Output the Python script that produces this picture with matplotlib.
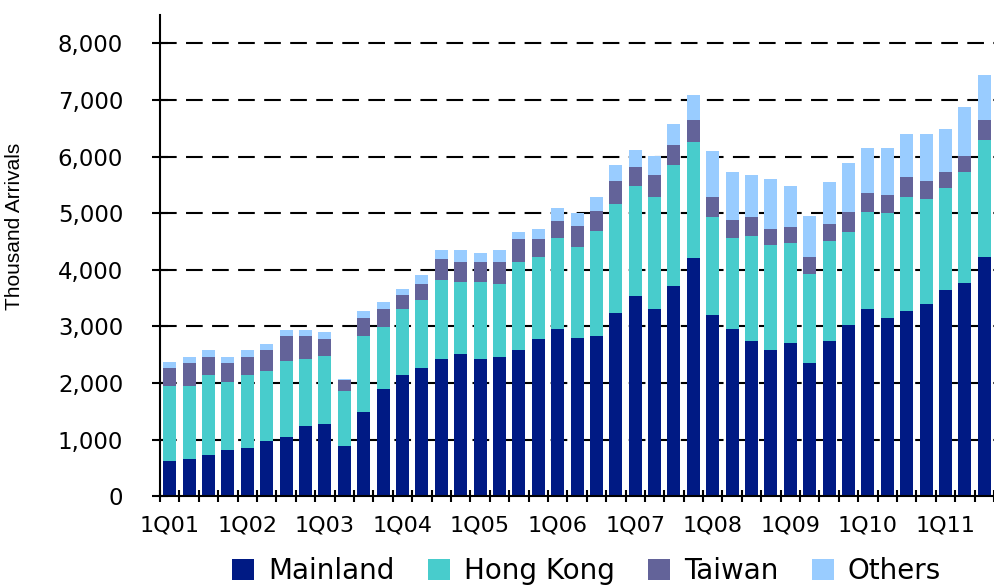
import numpy as np
import matplotlib
matplotlib.use('Agg')
import matplotlib.pyplot as plt

# Arrivées trimestrielles (milliers), 1Q01 -> 3Q11
quarters = [f'{q}Q{y:02d}' for y in range(1, 12) for q in range(1, 5)][:43]
tick_labels = ['1Q01', '1Q02', '1Q03', '1Q04', '1Q05', '1Q06',
               '1Q07', '1Q08', '1Q09', '1Q10', '1Q11']

mainland = [612, 653, 729, 812, 853, 976, 1047, 1241, 1282, 888, 1488,
            1894, 2135, 2259, 2424, 2506, 2424, 2459, 2576, 2782, 2950,
            2791, 2832, 3233, 3528, 3310, 3717, 4206, 3198, 2950, 2743,
            2580, 2710, 2345, 2739, 3022, 3311, 3152, 3270, 3387, 3641,
            3758, 4230]
hong_kong = [1329, 1288, 1412, 1206, 1288, 1242, 1335, 1188, 1189, 971,
             1336, 1094, 1165, 1212, 1400, 1276, 1358, 1294, 1559, 1442,
             1610, 1610, 1846, 1935, 1959, 1976, 2141, 2048, 1728, 1610,
             1859, 1850, 1767, 1578, 1774, 1650, 1714, 1844, 2008, 1856,
             1796, 1962, 2062]
taiwan = [324, 412, 318, 335, 318, 358, 442, 395, 311, 188, 329, 318, 247,
          282, 364, 353, 353, 382, 412, 323, 296, 366, 366, 395, 330, 395,
          354, 401, 360, 325, 324, 283, 283, 307, 288, 353, 336, 324, 366,
          318, 283, 295, 353]
others = [111, 106, 129, 106, 117, 118, 117, 117, 118, 18, 112, 118, 112,
          153, 153, 206, 159, 206, 118, 173, 235, 236, 242, 284, 307, 325,
          366, 442, 808, 838, 755, 883, 719, 724, 754, 854, 795, 836, 754,
          837, 766, 866, 795]

series = [('Mainland', mainland, '#001a84'),
          ('Hong Kong', hong_kong, '#48cccc'),
          ('Taiwan', taiwan, '#636399'),
          ('Others', others, '#99ccff')]

x = np.arange(len(quarters))

fig = plt.figure(figsize=(9.94, 5.85), dpi=100)
ax = fig.add_axes([0.161, 0.152, 0.839, 0.822])

bottom = np.zeros(len(x))
for name, vals, col in series:
    vals = np.array(vals, dtype=float)
    ax.bar(x, vals, width=0.67, bottom=bottom, color=col, label=name,
           linewidth=0, zorder=2)
    bottom += vals

ax.set_xlim(-0.46, 42.2)
ax.set_ylim(0, 8500)

# Grille horizontale en tirets
ax.set_yticks(np.arange(0, 8001, 1000))
ax.set_yticklabels([f'{v:,}' for v in range(0, 8001, 1000)],
                   fontsize=16.5, family='DejaVu Sans')
for v in range(1000, 8001, 1000):
    ax.axhline(v, color='black', linewidth=1.5,
               linestyle=(0, (8, 4.5)), zorder=1)

ax.tick_params(axis='y', direction='inout', length=11, width=1.5, pad=21)

ax.set_xticks(x[::4])
ax.set_xticklabels(tick_labels, fontsize=16, family='DejaVu Sans')
ax.set_xticks(np.arange(-0.5, 43, 1), minor=True)
ax.tick_params(axis='x', which='major', length=0, pad=14)
ax.tick_params(axis='x', which='minor', direction='inout', length=9, width=1.5)

for side in ['top', 'right']:
    ax.spines[side].set_visible(False)
for side in ['left', 'bottom']:
    ax.spines[side].set_linewidth(1.5)

ax.set_ylabel('Thousand Arrivals', fontsize=15, family='Liberation Sans')
ax.yaxis.set_label_coords(-0.163, 0.56)

fig.legend(loc='center', bbox_to_anchor=(0.59, 0.024), ncol=4, frameon=False,
           prop={'family': 'DejaVu Sans', 'size': 20},
           handlelength=0.8, handleheight=0.8, handletextpad=0.5,
           columnspacing=1.2, borderaxespad=0)

fig.savefig('out.png', dpi=100)
